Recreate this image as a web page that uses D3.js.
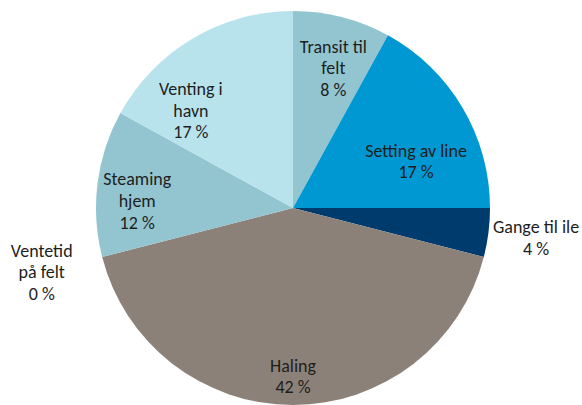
<!DOCTYPE html>
<html><head><meta charset="utf-8">
<script src="https://cdn.jsdelivr.net/npm/d3@7"></script>
<style>body{margin:0;background:#fff}svg{display:block}</style>
</head><body>
<script>
const categories = ["Transit til felt","Setting av line","Gange til ile","Haling","Ventetid på felt","Steaming hjem","Venting i havn"];
const labelLines = [["Transit til","felt"],["Setting av line"],["Gange til ile"],["Haling"],["Ventetid","på felt"],["Steaming","hjem"],["Venting i","havn"]];
const values = [8,17,4,42,0,12,17];
const colors = ["#92C5CF","#0098D3","#003B6E","#8C8178","#7FB2C0","#92C5CF","#B9E3EC"];
// label placement (angle in degrees clockwise from top, distance from centre)
const labelAngle = [16.1,69.2,96.9,180,255.7,272.7,313.7];
const labelDist = [145.7,131.6,244.8,168.2,259.3,156,141.3];

const W=582,H=405,cx=293,cy=208,R=197;
const svg=d3.select("body").append("svg").attr("width",W).attr("height",H);
const pie=d3.pie().sort(null).value(d=>d)(values);
const arc=d3.arc().innerRadius(0).outerRadius(R);
const g=svg.append("g").attr("transform",`translate(${cx},${cy})`);
g.selectAll("path").data(pie).join("path").attr("d",arc).attr("fill",(d,i)=>colors[i]);
const lh=21.6;
pie.forEach((d,i)=>{
  const a=labelAngle[i]*Math.PI/180, r=labelDist[i];
  const x=r*Math.sin(a), y=-r*Math.cos(a);
  const lines=labelLines[i].concat([values[i]+" %"]);
  const t=g.append("text").attr("text-anchor","middle")
    .attr("font-family","Carlito, Lato, 'Open Sans', sans-serif").attr("font-size",18).attr("fill","#1e1e1e");
  lines.forEach((s,k)=>{
    t.append("tspan").attr("x",x).attr("y",y+(k-(lines.length-1)/2)*lh).attr("dy","0.35em").text(s);
  });
});
</script>
</body></html>
